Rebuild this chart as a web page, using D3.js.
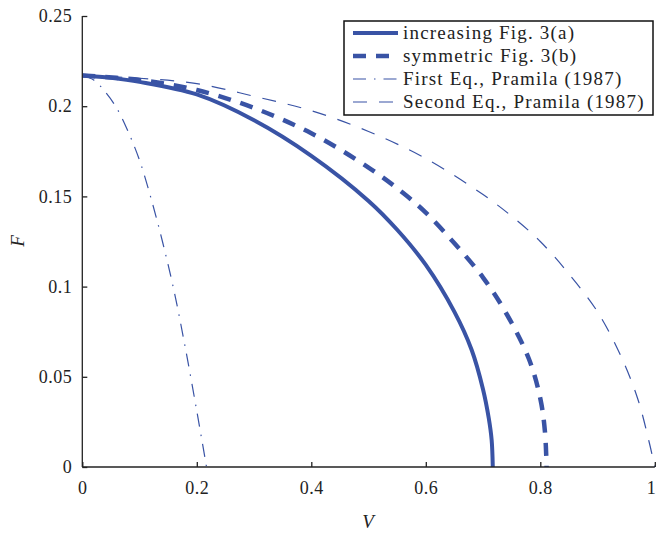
<!DOCTYPE html>
<html>
<head>
<meta charset="utf-8">
<script src="https://cdn.jsdelivr.net/npm/d3@7.9.0/dist/d3.min.js"></script>
<style>
  body { margin: 0; background: #fff; }
  svg { display: block; font-family: "Liberation Serif", "DejaVu Serif", serif; }
</style>
</head>
<body>
<svg id="chart" width="656" height="533"></svg>
<script>
// values
const increasingV = [0, 0.05, 0.1, 0.2, 0.3, 0.4, 0.5, 0.55, 0.6, 0.65, 0.68, 0.7, 0.71, 0.715, 0.717];
const increasingF = [0.217, 0.2157, 0.2135, 0.2065, 0.1922, 0.1725, 0.1475, 0.1315, 0.112, 0.086, 0.065, 0.043, 0.027, 0.015, 0];

const symmetricV = [0, 0.1, 0.2, 0.3, 0.4, 0.5, 0.56, 0.6, 0.65, 0.7, 0.74, 0.78, 0.8, 0.808, 0.811];
const symmetricF = [0.217, 0.2145, 0.209, 0.199, 0.185, 0.166, 0.152, 0.141, 0.124, 0.105, 0.0855, 0.06, 0.038, 0.02, 0];

const firstEqV = [0, 0.02, 0.04, 0.06, 0.08, 0.1, 0.12, 0.14, 0.16, 0.18, 0.2, 0.217];
const firstEqF = [0.217, 0.2145, 0.208, 0.199, 0.186, 0.17, 0.149, 0.125, 0.098, 0.066, 0.031, 0];

const secondEqV = [0, 0.1, 0.2, 0.3, 0.4, 0.5, 0.6, 0.7, 0.75, 0.8, 0.85, 0.9, 0.94, 0.97, 0.99, 1.0];
const secondEqF = [0.217, 0.2155, 0.2125, 0.2055, 0.1975, 0.186, 0.171, 0.151, 0.139, 0.125, 0.107, 0.086, 0.062, 0.038, 0.014, 0];

const xTicks = [0, 0.2, 0.4, 0.6, 0.8, 1];
const yTicks = [0, 0.05, 0.1, 0.15, 0.2, 0.25];

const seriesNames = [
  'increasing Fig. 3(a)',
  'symmetric Fig. 3(b)',
  'First Eq., Pramila (1987)',
  'Second Eq., Pramila (1987)'
];

const blue = '#3953a5';

const series = [
  { name: seriesNames[0], v: increasingV, f: increasingF, width: 4, dash: null },
  { name: seriesNames[1], v: symmetricV, f: symmetricF, width: 4.5, dash: '13,10' },
  { name: seriesNames[2], v: firstEqV, f: firstEqF, width: 1.2, dash: '13,8,1.5,8' },
  { name: seriesNames[3], v: secondEqV, f: secondEqF, width: 1.2, dash: '14,12' }
];

const svg = d3.select('#chart');
const x = d3.scaleLinear().domain([0, 1]).range([82.3, 654.8]);
const y = d3.scaleLinear().domain([0, 0.25]).range([467, 16]);

const line = d3.line()
  .x(d => x(d[0]))
  .y(d => y(d[1]))
  .curve(d3.curveCatmullRom.alpha(0.5));

svg.append('g')
  .selectAll('path')
  .data(series)
  .enter()
  .append('path')
    .attr('d', s => line(s.v.map((v, i) => [v, s.f[i]])))
    .attr('fill', 'none')
    .attr('stroke', blue)
    .attr('stroke-width', s => s.width)
    .attr('stroke-dasharray', s => s.dash);

// axes: ticks point inward
const xAxis = d3.axisBottom(x).tickValues(xTicks).tickSize(-5).tickPadding(14)
  .tickFormat(d => d3.format('~g')(d));
const yAxis = d3.axisLeft(y).tickValues(yTicks).tickSize(-5).tickPadding(10)
  .tickFormat(d => d3.format('~g')(d));

const gx = svg.append('g').attr('transform', `translate(0,${y(0)})`).call(xAxis);
const gy = svg.append('g').attr('transform', `translate(${x(0)},0)`).call(yAxis);

[gx, gy].forEach(g => {
  g.select('.domain').attr('stroke', '#222').attr('stroke-width', 1.3);
  g.selectAll('.tick line').attr('stroke', '#222').attr('stroke-width', 1.3);
  g.selectAll('.tick text')
    .attr('fill', '#222')
    .style('font-family', '"Liberation Serif", serif')
    .style('font-size', '18px')
    .style('letter-spacing', '0.5px');
});
gx.select('.domain').attr('d', `M${x(0)},0H${x(1)}`);
gy.select('.domain').attr('d', `M0,${y(0)}V${y(0.25)}`);
// last x label sits on the right edge of the picture
gx.selectAll('.tick text').filter(d => d === 1).attr('text-anchor', 'end').attr('dx', 1);

svg.append('text')
  .attr('x', 368).attr('y', 528)
  .attr('text-anchor', 'middle')
  .style('font-style', 'italic')
  .style('font-size', '19px')
  .attr('fill', '#222')
  .text('V');

svg.append('text')
  .attr('transform', 'translate(24,241) rotate(-90)')
  .attr('text-anchor', 'middle')
  .style('font-style', 'italic')
  .style('font-size', '19px')
  .attr('fill', '#222')
  .text('F');

// legend
const legend = svg.append('g');
legend.append('rect')
  .attr('x', 344).attr('y', 21)
  .attr('width', 309).attr('height', 94)
  .attr('fill', '#fff')
  .attr('stroke', '#111')
  .attr('stroke-width', 1.5);

const rows = legend.selectAll('g.row')
  .data(series)
  .enter()
  .append('g')
    .attr('class', 'row')
    .attr('transform', (d, i) => `translate(0,${33 + i * 23})`);

rows.append('line')
  .attr('x1', 353).attr('x2', 398)
  .attr('y1', 0).attr('y2', 0)
  .attr('stroke', blue)
  .attr('stroke-width', d => d.width)
  .attr('stroke-dasharray', d => d.dash);

rows.append('text')
  .attr('x', 403).attr('y', 6)
  .style('font-size', '19px')
  .style('letter-spacing', '1.2px')
  .attr('fill', '#222')
  .text(d => d.name);
</script>
</body>
</html>
